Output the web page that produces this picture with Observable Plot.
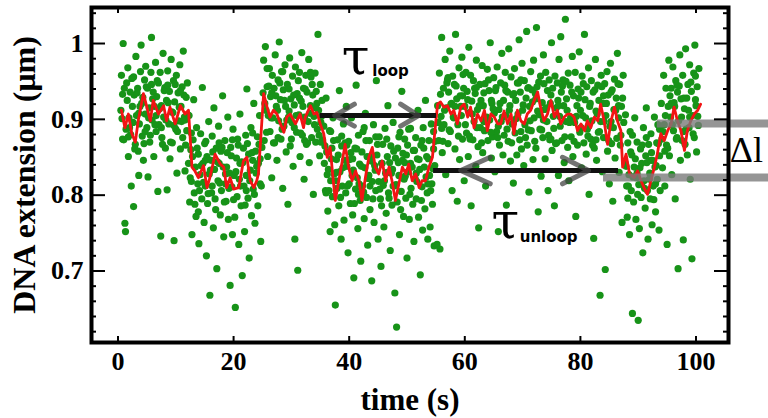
<!DOCTYPE html>
<html><head><meta charset="utf-8">
<script src="https://cdn.jsdelivr.net/npm/d3@7"></script>
<script src="https://cdn.jsdelivr.net/npm/@observablehq/plot@0.6"></script>
<style>html,body{margin:0;padding:0;background:#fff;}</style>
</head><body><div id="chart"></div>
<script>
// green samples: [time in 0.1 s, DNA extension in nm]
const dotsA = [[5,912],[6,958],[8,874],[9,1000],[11,941],[12,763],[13,752],[14,887],[16,925],[17,968],[18,851],[19,902],[21,936],[22,880],[23,812],[24,954],[26,896],[27,785],[28,932],[30,867],[31,983],[32,905],[34,941],[35,858],[36,826],[38,917],[39,963],[40,998],[42,878],[43,929],[44,846],[46,952],[47,907],[48,970],[50,889],[51,941],[52,824],[54,915],[55,870],[57,962],[58,1008],[59,899],[61,936],[62,851],[63,917],[65,975],[66,884],[67,930],[69,805],[70,948],[71,893],[73,962],[74,746],[75,918],[77,867],[78,987],[79,903],[81,942],[82,862],[84,925],[85,807],[86,964],[88,894],[89,937],[90,848],[92,979],[93,910],[94,869],[96,951],[97,740],[98,923],[100,887],[101,958],[102,829],[104,935],[105,898],[107,972],[108,861],[109,917],[111,943],[112,876],[113,990],[115,903],[116,832],[118,929],[119,885],[120,948],
  [7,901],[10,873],[15,948],[20,889],[25,917],[29,861],[33,935],[37,894],[41,921],[45,868],[49,943],[53,902],[56,879],[60,927],[64,893],[68,951],[72,914],[76,876],[80,938],[83,899],[87,922],[91,870],[95,909],[99,946],[103,884],[106,916],[110,897],[114,932],[117,866],[121,906],[8,933],[18,877],[27,956],[36,908],[47,884],[58,946],[66,905],[75,889],[86,945],[97,892],[108,938],[116,899]];
const dotsB = [[122,842],[123,905],[124,791],[126,860],[127,818],[128,748],[130,873],[131,926],[132,803],[134,837],[135,772],[136,889],[138,815],[139,854],[140,736],[142,827],[143,881],[145,795],[146,942],[147,842],[149,764],[150,868],[151,812],[153,720],[154,851],[155,789],[157,897],[158,828],[159,668],[161,846],[162,803],[163,878],[165,757],[166,915],[167,834],[169,781],[170,862],[171,703],[173,819],[174,891],[175,842],[177,774],[178,858],[179,806],[181,931],[182,837],[183,745],[185,872],[186,815],[187,792],[189,856],[190,903],[191,768],[193,829],[194,681],[195,863],[197,811],[198,748],[199,887],[201,826],[202,771],[203,652],[205,849],[206,798],[207,874],[209,735],[210,821],[211,907],[213,786],[214,844],[215,694],[217,862],[218,812],[219,752],[221,879],[222,826],[223,940],[225,796],[226,854],[227,717],[229,833],[230,889],[231,773],[233,846],[234,808],[235,921],[237,763],[238,858],[239,829],[241,877],[242,786],[243,842],[245,905],[246,815],[247,739],[249,863],
  [125,823],[129,851],[133,788],[137,862],[141,806],[144,839],[148,817],[152,871],[156,802],[160,833],[164,857],[168,795],[172,844],[176,816],[180,863],[184,791],[188,837],[192,809],[196,852],[200,794],[204,831],[208,866],[212,812],[216,843],[220,787],[224,868],[228,819],[232,856],[236,801],[240,838],[244,867],[248,812],[127,882],[139,778],[151,846],[163,812],[175,869],[186,828],[198,873],[211,842],[222,806],[233,882],[246,848]];
const dotsC = [[251,935],[252,978],[253,872],[255,996],[256,912],[258,943],[259,851],[260,905],[262,967],[263,884],[264,930],[266,823],[267,958],[268,902],[270,941],[271,869],[272,985],[274,917],[275,846],[277,952],[278,898],[279,1002],[281,926],[282,874],[283,963],[285,809],[286,939],[287,891],[289,972],[290,917],[291,857],[293,946],[294,788],[295,903],[297,981],[298,865],[299,927],[301,896],[302,957],[303,838],[305,919],[306,742],[307,969],[309,883],[310,934],[311,701],[313,906],[314,962],[315,851],[317,924],[318,988],[319,879],[321,941],[322,821],[323,903],[325,958],[326,867],[327,936],[329,897],[330,979],[331,843],[333,918],[334,956],[335,876],[337,932],[338,801],[339,904],[341,961],[342,870],[343,937],[345,887],[346,1012],[347,912],[349,852],[350,946],[351,896],[353,925],[354,873],
  [254,921],[257,883],[261,944],[265,902],[269,869],[273,931],[276,912],[280,948],[284,887],[288,925],[292,899],[296,940],[300,874],[304,932],[308,905],[312,951],[316,882],[320,917],[324,940],[328,869],[332,908],[336,946],[340,893],[344,921],[348,879],[352,904],[258,967],[266,935],[277,876],[285,963],[296,911],[305,889],[314,928],[323,872],[333,962],[342,915],[351,870]];
const dotsD = [[356,891],[357,842],[359,806],[360,928],[361,857],[363,779],[364,834],[366,885],[367,752],[368,819],[370,862],[371,798],[372,902],[374,828],[375,761],[376,655],[378,847],[379,809],[380,873],[382,786],[383,938],[384,831],[386,742],[387,865],[388,812],[390,894],[391,767],[392,846],[394,803],[395,917],[396,838],[398,724],[399,871],[400,815],[402,789],[403,856],[404,902],[406,774],[407,833],[408,691],[410,862],[411,808],[412,945],[414,823],[415,756],[416,879],[418,841],[419,793],[420,713],[422,857],[423,812],[424,884],[426,769],[427,836],[428,908],[430,797],[431,851],[432,734],[434,826],[435,872],[436,781],[438,845],[439,687],[440,818],[442,893],[443,764],[444,839],[446,806],[447,951],[448,853],[450,742],[451,818],[452,877],[454,795],[455,706],[456,842],[458,867],[459,813],[460,758],[462,888],[463,829],[464,776],[466,851],[467,918],[468,803],[470,843],[471,727],[472,865],[474,787],[475,834],[476,896],[478,812],[479,671],[480,849],[482,626],[483,791],[484,862],[486,826],[487,748],[488,883],[490,805],[491,937],[492,846],[494,772],[495,821],[496,874],[498,796],[499,853],[500,717],[502,831],[503,887],[504,768],[506,842],[507,809],[508,905],[510,788],[511,859],[512,739],[514,822],[515,876],[516,795],[518,848],[519,912],[520,771],[522,834],[523,695],[524,866],[526,811],[527,754],[528,889],[530,837],[531,782],[532,925],[534,851],[535,803],[536,742],[538,872],[539,826],[540,758],[542,894],[543,815],[544,788],[546,861],[547,733],[548,839],
  [358,865],[362,827],[365,806],[369,848],[373,872],[377,819],[381,853],[385,797],[389,836],[393,869],[397,812],[401,847],[405,826],[409,789],[413,861],[417,815],[421,838],[425,804],[429,872],[433,822],[437,851],[441,795],[445,833],[449,867],[453,808],[457,842],[461,819],[465,874],[469,796],[473,829],[477,858],[481,814],[485,843],[489,781],[493,855],[497,825],[501,866],[505,801],[509,837],[513,859],[517,818],[521,847],[525,793],[529,862],[533,824],[537,848],[541,806],[545,835],[549,871],[360,803],[368,884],[378,830],[387,878],[396,866],[406,848],[416,801],[426,889],[436,812],[446,877],[456,786],[466,830],[476,812],[486,877],[496,843],[506,888],[516,829],[526,872],[536,815],[546,884]];
const dotsE = [[552,735],[553,918],[555,872],[556,961],[557,729],[559,904],[560,1008],[561,856],[563,941],[564,893],[566,979],[567,827],[568,915],[570,952],[571,868],[572,936],[574,990],[575,884],[576,920],[578,806],[579,957],[580,903],[582,946],[583,861],[584,1012],[586,927],[587,792],[588,893],[590,968],[591,847],[592,931],[594,905],[595,982],[596,874],[598,941],[599,819],[600,917],[602,962],[603,882],[604,937],[606,851],[607,995],[608,909],[610,958],[611,786],[612,924],[614,873],[615,951],[616,897],[618,934],[619,838],[620,978],[622,913],[623,864],[624,757],[626,946],[627,889],[628,925],[630,971],[631,856],[632,918],[634,885],[635,947],[636,812],[638,903],[639,966],[640,872],[642,938],[643,899],[644,1001],[646,849],[647,921],[648,877],[650,955],[651,908],[652,831],[654,942],[655,884],[656,969],[658,752],[659,913],[660,866],[662,948],[663,897],[664,987],[666,853],[667,925],[668,879],[670,962],[671,905],[672,787],[674,936],[675,871],[676,993],[678,918],[679,845],[680,956],[682,894],[683,932],[684,816],[686,967],[687,882],[688,925],[690,853],[691,948],[692,907],[694,1005],[695,873],[696,936],[698,861],[699,974],[700,912],[702,839],[703,951],[704,893],[706,928],[707,1016],[708,866],[710,942],[711,804],[712,917],[714,963],[715,885],[716,939],[718,847],[719,978],[720,902],[722,934],[723,862],[724,1021],[726,911],[727,778],[728,949],[730,887],[731,957],[732,825],[734,922],[735,876],[736,985],[738,913],[739,848],[740,962],[742,897],[743,938],[744,806],[746,952],[747,873],[748,921],[750,1001],[751,859],[752,941],[754,888],[755,786],[756,957],[758,915],[759,869],[760,948],[762,826],[763,979],[764,904],[766,1009],[767,936],[768,872],[770,952],[771,918],[772,843],[774,1032],[775,897],[776,927],[778,863],[779,961],[780,819],[782,945],[783,902],[784,877],[786,983],[787,851],[788,931],[790,896],[791,962],[792,772],[794,918],[795,866],[796,940],[798,989],[799,883],[800,912],[802,836],[803,957],[804,905],[806,869],[807,1012],[808,926],[810,854],[811,943],[812,887],[814,968],[815,801],[816,917],[818,874],[819,951],[820,898],[822,936],[823,743],[824,862],[826,979],[827,911],[828,846],[830,945],[831,883],[832,925],[834,668],[835,897],[836,958],[838,831],[839,921],[840,876],[842,947],[843,702],[844,905],[846,963],[847,858],[848,932],[850,815],[851,891],[852,974],[854,868],[855,939],[856,792],[858,913],[859,953],[860,849],[862,928],[863,875],[864,987],[866,902],[867,830],[868,946],[870,879],[871,917],[872,764],[874,958],[875,896],
  [554,896],[558,933],[562,871],[565,912],[569,948],[573,886],[577,921],[581,902],[585,944],[589,878],[593,917],[597,959],[601,893],[605,926],[609,874],[613,907],[617,941],[621,889],[625,918],[629,869],[633,935],[637,901],[641,952],[645,883],[649,914],[653,938],[657,876],[661,921],[665,903],[669,945],[673,887],[677,912],[681,869],[685,934],[689,901],[693,948],[697,884],[701,919],[705,876],[709,941],[713,898],[717,923],[721,871],[725,943],[729,906],[733,886],[737,947],[741,915],[745,879],[749,932],[753,904],[757,868],[761,925],[765,891],[769,944],[773,877],[777,912],[781,896],[785,936],[789,871],[793,904],[797,928],[801,889],[805,947],[809,902],[813,878],[817,921],[821,866],[825,939],[829,907],[833,884],[837,943],[841,897],[845,921],[849,872],[853,936],[857,889],[861,912],[865,947],[869,866],[873,928],[560,888],[571,955],[583,917],[596,931],[608,878],[620,942],[633,897],[646,925],[658,891],[671,938],[684,895],[697,952],[710,886],[723,927],[736,899],[749,874],[762,918],[775,950],[788,902],[801,936],[814,891],[827,873],[840,931],[853,897],[866,918]];
const dotsF = [[877,843],[878,906],[880,812],[881,771],[882,869],[884,827],[885,748],[886,884],[888,806],[889,853],[890,644],[892,791],[893,837],[894,902],[896,768],[897,823],[898,870],[900,635],[901,814],[902,756],[904,861],[905,797],[906,842],[908,724],[909,889],[910,819],[912,783],[913,852],[914,915],[916,806],[917,742],[918,867],[920,829],[921,795],[922,881],[924,761],[925,846],[926,812],[928,903],[929,837],[930,778],[932,869],[933,821],[934,893],[936,754],[937,852],[938,806],
  [879,838],[883,812],[887,857],[891,824],[895,848],[899,801],[903,836],[907,866],[911,809],[915,843],[919,821],[923,856],[927,794],[931,839],[935,868],[882,796],[890,879],[898,829],[906,815],[914,876],[922,846],[930,815],[937,887]];
const dotsG = [[940,921],[941,874],[942,836],[944,958],[945,893],[946,812],[948,941],[949,866],[950,735],[952,917],[953,978],[954,852],[956,903],[957,941],[958,827],[960,969],[961,885],[962,922],[964,795],[965,951],[966,874],[968,936],[969,703],[970,898],[972,985],[973,846],[974,927],[976,872],[977,958],[978,741],[980,914],[981,867],[982,993],[984,928],[985,853],[986,946],[988,889],[989,972],[990,821],[992,937],[993,716],[994,905],[996,961],[997,876],[998,998],[1000,918],[1001,857],[1002,943],[1004,892],[1005,967],
  [943,884],[947,905],[951,862],[955,931],[959,893],[963,917],[967,876],[971,944],[975,903],[979,928],[983,887],[987,912],[991,949],[995,881],[999,926],[1003,904],[946,858],[957,921],[967,945],[978,884],[989,903],[999,957]];

// red smoothed trace: [time s, extension µm]
const redTrace = [[0.6,0.912],[1.2,0.889],[1.8,0.907],[2.4,0.881],[3.0,0.870],[3.5,0.898],[4.4,0.934],[5.0,0.916],[5.6,0.898],[6.1,0.925],[7.0,0.907],[7.9,0.918],[8.4,0.898],[9.0,0.916],[9.9,0.894],[10.8,0.918],[11.6,0.907],[12.2,0.912],[12.8,0.837],[13.3,0.832],[13.9,0.823],[14.8,0.839],[15.4,0.810],[15.9,0.823],[16.8,0.854],[17.7,0.841],[18.3,0.837],[18.8,0.810],[19.4,0.823],[20.0,0.808],[20.9,0.810],[21.7,0.845],[22.3,0.850],[22.9,0.819],[23.5,0.810],[24.0,0.819],[24.3,0.828],[25.2,0.934],[25.8,0.916],[26.3,0.903],[26.9,0.912],[27.5,0.907],[28.1,0.894],[28.7,0.883],[29.2,0.903],[29.8,0.907],[30.7,0.894],[31.5,0.907],[32.1,0.889],[32.4,0.903],[33.3,0.918],[33.9,0.907],[34.4,0.909],[35.0,0.894],[35.6,0.881],[36.2,0.850],[36.7,0.863],[37.3,0.815],[37.6,0.793],[38.2,0.819],[38.8,0.845],[39.3,0.867],[39.9,0.837],[40.5,0.819],[41.1,0.832],[41.7,0.819],[42.2,0.793],[42.8,0.823],[43.4,0.850],[44.0,0.863],[44.5,0.837],[45.1,0.828],[45.7,0.845],[46.3,0.819],[46.9,0.837],[47.4,0.819],[48.0,0.793],[48.6,0.815],[49.2,0.837],[49.8,0.828],[50.3,0.841],[50.9,0.819],[51.5,0.828],[52.1,0.810],[52.6,0.819],[53.2,0.819],[53.8,0.837],[54.4,0.850],[55.0,0.898],[55.3,0.920],[55.8,0.923],[56.4,0.916],[57.0,0.918],[57.6,0.907],[58.1,0.912],[58.7,0.894],[59.3,0.916],[59.9,0.920],[60.5,0.903],[61.0,0.916],[61.6,0.889],[62.2,0.907],[62.8,0.898],[63.4,0.912],[63.9,0.885],[64.5,0.907],[65.1,0.903],[65.7,0.894],[66.2,0.894],[66.8,0.911],[67.4,0.894],[68.0,0.907],[68.5,0.881],[69.1,0.912],[69.7,0.898],[70.3,0.894],[70.8,0.907],[71.4,0.912],[72.0,0.925],[72.6,0.936],[73.1,0.916],[73.7,0.898],[74.3,0.907],[74.9,0.925],[75.5,0.903],[76.0,0.912],[76.6,0.894],[77.2,0.903],[77.8,0.907],[78.3,0.907],[78.9,0.903],[79.5,0.885],[80.1,0.894],[80.7,0.885],[81.2,0.898],[81.8,0.889],[82.4,0.903],[83.0,0.898],[83.5,0.920],[84.1,0.898],[84.7,0.867],[85.3,0.898],[85.9,0.916],[86.4,0.898],[87.0,0.885],[87.3,0.837],[87.9,0.854],[88.5,0.828],[89.3,0.823],[89.9,0.832],[90.5,0.819],[91.0,0.810],[91.6,0.801],[92.2,0.819],[92.8,0.837],[93.3,0.854],[93.9,0.881],[94.5,0.872],[95.1,0.885],[95.7,0.894],[96.2,0.916],[96.8,0.898],[97.4,0.885],[98.0,0.859],[98.5,0.885],[99.1,0.898],[99.7,0.907],[100.3,0.912],[100.8,0.920]];

const xTicks = [0, 20, 40, 60, 80, 100];
const yTicks = [0.7, 0.8, 0.9, 1];
const yMinor = [0.62,0.64,0.66,0.68,0.72,0.74,0.76,0.78,0.82,0.84,0.86,0.88,0.92,0.94,0.96,0.98,1.02,1.04];

// annotations (data units)
const dwellArrows = [{x1: 35.0, x2: 55.1, y: 0.905}, {x1: 54.6, x2: 86.6, y: 0.8325}];
const chevronPts = [
  {c:0,t:40.9,v:0.920},{c:0,t:37.5,v:0.905},{c:0,t:40.9,v:0.891},
  {c:1,t:48.9,v:0.920},{c:1,t:52.0,v:0.905},{c:1,t:48.9,v:0.891},
  {c:2,t:64.4,v:0.850},{c:2,t:59.3,v:0.8325},{c:2,t:64.4,v:0.815},
  {c:3,t:76.9,v:0.850},{c:3,t:81.4,v:0.8325},{c:3,t:76.9,v:0.815}
];
const stepBands = [{y: 0.8945, x1: 93.3, x2: 113}, {y: 0.8233, x1: 84.0, x2: 113}];
const tauLabels = [{t: 41.1, v: 0.9815}, {t: 67.0, v: 0.764}];
const tauSubs = [{t: 44.0, v: 0.963, s: "loop"}, {t: 69.5, v: 0.744, s: "unloop"}];
const deltaLabel = [{t: 108.7, v: 0.859, s: "Δl"}];

const xDom = [-4.58, 105.62];
const yDom = [0.6057, 1.0475];
const W = 768, H = 418, mL = 91, mR = 40, mT = 7, mB = 76;
const sx = (xDom[1] - xDom[0]) / (W - mL - mR);
const sy = (yDom[1] - yDom[0]) / (H - mT - mB);

const dots = [...dotsA, ...dotsB, ...dotsC, ...dotsD, ...dotsE, ...dotsF, ...dotsG]
  .map(([t, v]) => ({time: t / 10, ext: v / 1000}));
const red = redTrace.map(([t, v]) => ({time: t, ext: v}));

const serif = "'Liberation Serif', 'Times New Roman', serif";
const chart = Plot.plot({
  width: W, height: H, marginLeft: mL, marginRight: mR, marginTop: mT, marginBottom: mB,
  x: {domain: xDom, axis: null},
  y: {domain: yDom, axis: null},
  style: {background: "#fff", color: "#000"},
  marks: [
    Plot.dot(dots, {x: "time", y: "ext", r: 3.6, fill: "#179318", stroke: null}),
    Plot.line(red, {x: "time", y: "ext", stroke: "#f21414", strokeWidth: 2.8}),
    Plot.ruleY(dwellArrows, {y: "y", x1: "x1", x2: "x2", stroke: "#111", strokeWidth: 5}),
    Plot.line(chevronPts, {x: "t", y: "v", z: "c", stroke: "#444", strokeOpacity: 0.75, strokeWidth: 5}),
    Plot.ruleY(stepBands, {y: "y", x1: "x1", x2: "x2", stroke: "#7a7a7a", strokeOpacity: 0.8, strokeWidth: 8}),
    Plot.text(tauLabels, {x: "t", y: "v", text: () => "τ", fontFamily: "'DejaVu Serif', serif", fontSize: 50, fill: "#000"}),
    Plot.text(tauSubs, {x: "t", y: "v", text: "s", textAnchor: "start", fontFamily: "'DejaVu Sans', sans-serif", fontWeight: "bold", fontSize: 15, fill: "#000"}),
    Plot.text(deltaLabel, {x: "t", y: "v", text: "s", fontFamily: serif, fontSize: 36, fill: "#000"}),
    // inward ticks
    Plot.ruleY(yTicks, {x1: xDom[0], x2: xDom[0] + 14 * sx, strokeWidth: 2}),
    Plot.ruleY(yMinor, {x1: xDom[0], x2: xDom[0] + 5 * sx, strokeWidth: 2}),
    Plot.ruleY(yTicks, {x1: xDom[1] - 14 * sx, x2: xDom[1], strokeWidth: 2}),
    Plot.ruleY(yMinor, {x1: xDom[1] - 5 * sx, x2: xDom[1], strokeWidth: 2}),
    Plot.ruleX(xTicks, {y1: yDom[0], y2: yDom[0] + 6 * sy, strokeWidth: 2}),
    Plot.ruleX(xTicks, {y1: yDom[1] - 6 * sy, y2: yDom[1], strokeWidth: 2}),
    Plot.frame({stroke: "#000", strokeWidth: 4}),
    Plot.axisX(xTicks, {anchor: "bottom", tickSize: 0, tickPadding: 9, label: null, fontFamily: serif, fontWeight: "bold", fontSize: 26}),
    Plot.axisY(yTicks, {anchor: "left", tickSize: 0, tickPadding: 8, label: null, tickFormat: d3.format("~g"), fontFamily: serif, fontWeight: "bold", fontSize: 26}),
    Plot.text(["DNA extension (μm)"], {frameAnchor: "left", dx: -67, rotate: -90, textAnchor: "middle", lineAnchor: "middle", fontFamily: serif, fontWeight: "bold", fontSize: 32}),
    Plot.text(["time (s)"], {frameAnchor: "bottom", dy: 58, textAnchor: "middle", lineAnchor: "middle", fontFamily: serif, fontWeight: "bold", fontSize: 31})
  ]
});
document.getElementById("chart").appendChild(chart);
</script>
</body></html>
